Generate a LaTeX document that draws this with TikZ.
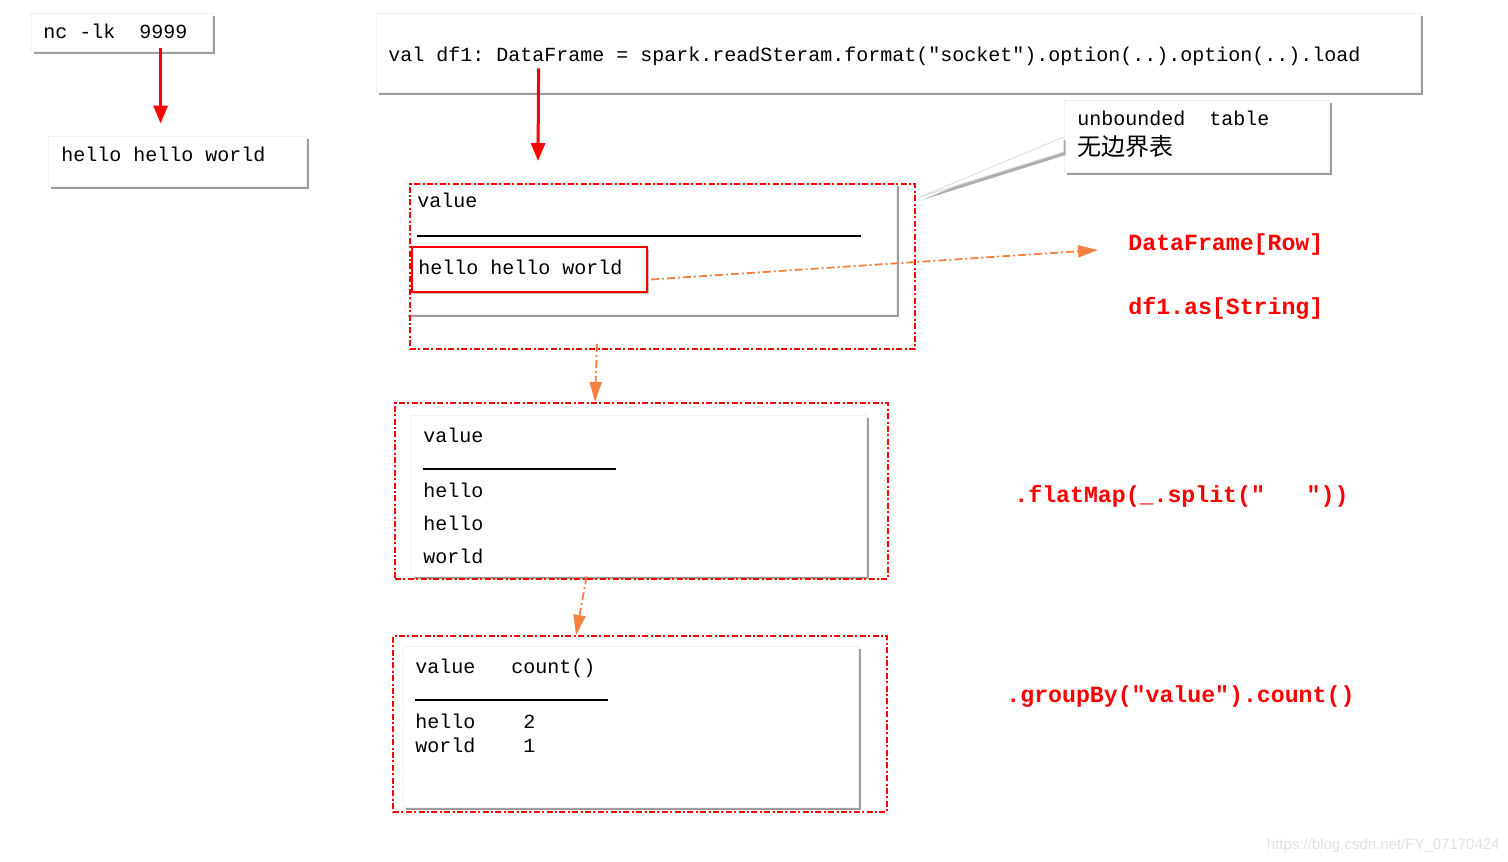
\documentclass[tikz,border=0pt]{standalone}
\usepackage{fontspec}
\setmonofont{Liberation Mono}
\setsansfont{Liberation Sans}
\newfontfamily\cjk{Noto Sans CJK SC}
\usetikzlibrary{arrows.meta,positioning,fit,shadows}

\definecolor{arrorange}{RGB}{245,128,64}

\begin{document}
\begin{tikzpicture}[
  x=0.5pt, y=-0.5pt,
  box/.style={fill=white,draw=black!6,inner sep=0pt,drop shadow={shadow xshift=1.5pt,shadow yshift=-1.5pt,fill=black!70,opacity=0.55}},
  frame/.style={draw=red,line width=1pt,dash pattern=on 3pt off 1.2pt on 1pt off 1.2pt,inner sep=0pt},
  code/.style={font=\ttfamily\fontsize{10pt}{12pt}\selectfont,anchor=base west,inner sep=0pt},
  op/.style={font=\ttfamily\bfseries\fontsize{11.6pt}{14pt}\selectfont,text=red,anchor=base west,inner sep=0pt},
  redarr/.style={draw=red,line width=1.5pt,-{Triangle[length=9pt,width=7pt]}},
  oarr/.style={draw=arrorange,line width=0.9pt,dash pattern=on 4pt off 1.5pt on 1pt off 1.5pt,-{Triangle[length=10pt,width=6pt]}},
  sep/.style={line width=0.9pt}
]
\useasboundingbox (0,0) rectangle (1508,861);

\node[box,fit={(31,13) (212,51)}] (ncbox) {};
\node[code] (nctxt) at (43,39) {nc~-lk~~9999};
\node[box,fit={(48,136) (306,186)}] (hellobox) {};
\node[code] (hellotxt) at (61,162) {hello hello world};

\node[box,fit={(376,13) (1420,92)}] (codebox) {};
\node[code] (codetxt) at (388,62) {val df1: DataFrame = spark.readSteram.format("socket").option(..).option(..).load};

\coordinate (tip) at (920,197);
\node[box,fit={(1064,100) (1329,172)}] (ubox) {};
\draw[fill=white,draw=black!15,drop shadow={shadow xshift=1pt,shadow yshift=-1.5pt,fill=black!70,opacity=0.45}]
  ([yshift=-0.5pt]ubox.west) -- (tip) -- ([yshift=-8pt]ubox.west);
\node[code] (utxt) at (1077,126) {unbounded~~table};
\node[anchor=base west,inner sep=0pt,font=\cjk\fontsize{12pt}{14pt}\selectfont] (ucn) at (1077,156) {无边界表};

\node[box,fit={(405,183) (896,314)}] (tbl1) {};
\node[frame,fit={(410,184) (915,349)}] (frame1) {};
\node[code] (v1) at (417,208) {value};
\draw[sep] (417,236) -- (861,236);
\node[draw=red,line width=1pt,fill=white,inner sep=0pt,drop shadow={shadow xshift=1pt,shadow yshift=-1pt,fill=black!70,opacity=0.35},fit={(412,247) (647,292)}] (rowbox) {};
\node[code] (rowtxt) at (418,274) {hello hello world};

\node[box,fit={(411,415) (866,576)}] (tbl2) {};
\node[frame,fit={(395,403) (888,579)}] (frame2) {};
\node[code] (v2) at (423,442) {value};
\draw[sep] (423,469) -- (616,469);
\node[code] (w1) at (423,497) {hello};
\node[code] (w2) at (423,530) {hello};
\node[code] (w3) at (423,563) {world};

\node[box,fit={(403,646) (858,807)}] (tbl3) {};
\node[frame,fit={(393,636) (887,812)}] (frame3) {};
\node[code] (v3) at (415,673) {value~~~count()};
\draw[sep] (415,700) -- (608,700);
\node[code] (c1) at (415,728) {hello~~~~2};
\node[code] (c2) at (415,752) {world~~~~1};

\node[op] (rowlbl) at (1128,250) {DataFrame[Row]};
\node[op] (aslbl) at (1128,314) {df1.as[String]};
\node[op] (fmlbl) at (1014,502) {.flatMap(\_.split("~~~"))};
\node[op] (gblbl) at (1006,702) {.groupBy("value").count()};

\node[font=\sffamily\fontsize{7.5pt}{9pt}\selectfont,text=black!12,anchor=base east,inner sep=0pt] (mark) at (1500,849) {https://blog.csdn.net/FY\_07170424};

\draw[redarr] ([xshift=65pt,yshift=1.5pt]ncbox.south west) -- ([xshift=56.5pt,yshift=6pt]hellobox.north west);
\draw[redarr] ([xshift=81.5pt,yshift=12pt]codebox.south west) -- ([xshift=64.5pt,yshift=11pt]frame1.north west);
\draw[oarr] ([xshift=1.5pt,yshift=-5pt]rowbox.east) -- ([xshift=-15pt]rowlbl.base west);
\draw[oarr] ([xshift=94pt,yshift=3pt]frame1.south west) -- ([xshift=100.5pt]frame2.north west);
\draw[oarr] ([xshift=88pt]tbl2.south west) -- ([xshift=92pt]frame3.north west);
\end{tikzpicture}
\end{document}
